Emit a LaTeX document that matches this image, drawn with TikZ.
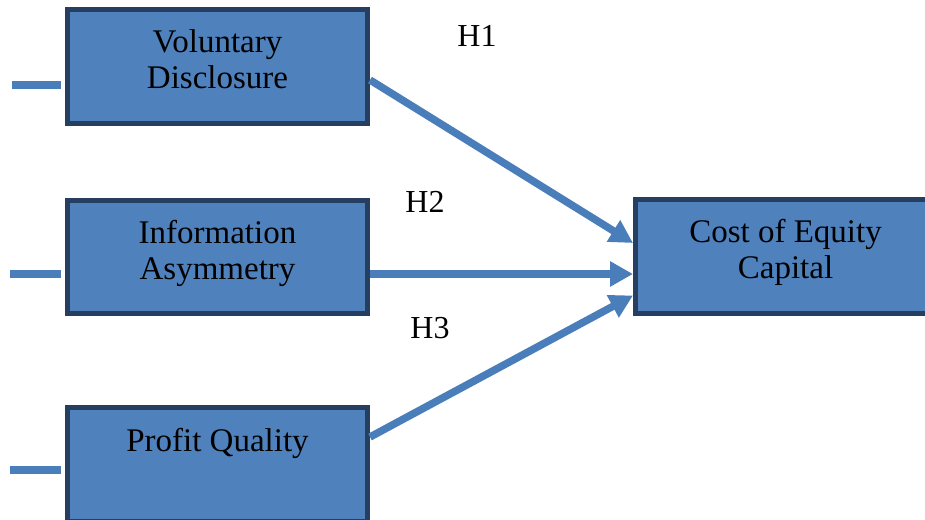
\documentclass[tikz,border=0pt]{standalone}
\usepackage{fontspec}
\setmainfont{Liberation Serif}
\usepackage{xcolor}
\usetikzlibrary{arrows.meta, positioning}

\definecolor{boxfill}{HTML}{4F81BD}
\definecolor{boxline}{HTML}{263F61}
\definecolor{arrowblue}{HTML}{4A7EBB}

\begin{document}
\begin{tikzpicture}[
  x=1pt, y=-1pt,
  box/.style={rectangle, draw=boxline, fill=boxfill, line width=5pt, minimum width=300pt, minimum height=114pt, inner sep=0pt},
  boxtext/.style={anchor=north, yshift=-22pt, inner sep=0pt, align=center, font=\fontsize{33}{36}\selectfont},
  hyp/.style={anchor=base, inner sep=0pt, font=\fontsize{32}{36}\selectfont},
  arrow/.style={-{Triangle[length=23pt, width=24pt]}, line width=7.5pt, arrowblue},
  stub/.style={line width=8pt, arrowblue, shorten >=4pt},
]
\clip (0,0) rectangle (925,519);

% Variablen
\node[box, label={[boxtext]north:Voluntary\\Disclosure}] (vd) at (217.5,66.5) {};
\node[box, minimum height=113pt, label={[boxtext]north:Information\\Asymmetry}] (ia) at (217.5,257) {};
\node[box, label={[boxtext, yshift=-1pt]north:Profit Quality}] (pq) at (217.5,464.5) {};
\node[box, label={[boxtext]north:Cost of Equity\\Capital}] (cost) at (785.5,256.5) {};

% Hypothesen
\node[hyp] (h1) at (477,46) {H1};
\node[hyp] (h2) at (425,212) {H2};
\node[hyp] (h3) at (430,338) {H3};

% Pfeile
\draw[arrow] ([yshift=-13.5pt]vd.east) -- ([yshift=13.5pt]cost.west);
\draw[arrow] ([yshift=-17pt]ia.east) -- ([yshift=-17.5pt]cost.west);
\draw[arrow] ([yshift=27.5pt]pq.east) -- ([yshift=-39pt]cost.west);

% Stummel links
\coordinate (s1) at (12,85);
\coordinate (s2) at (10,274);
\coordinate (s3) at (10,469.5);
\draw[stub] (s1) -- (s1 -| vd.west);
\draw[stub] (s2) -- (s2 -| ia.west);
\draw[stub] (s3) -- (s3 -| pq.west);

\end{tikzpicture}
\end{document}
